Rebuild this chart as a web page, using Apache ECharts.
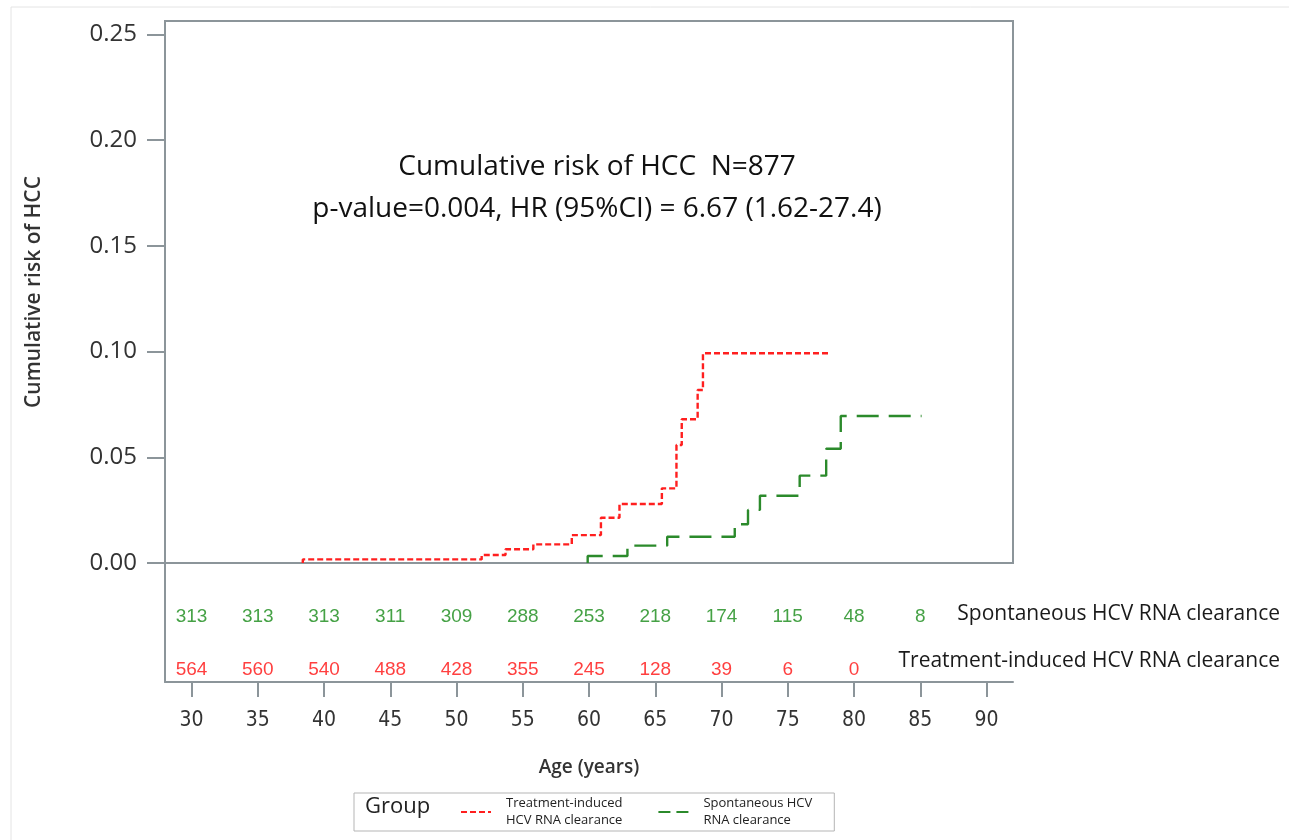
<!DOCTYPE html>
<html>
<head>
<meta charset="utf-8">
<script src="https://cdn.jsdelivr.net/npm/echarts@6/dist/echarts.min.js"></script>
<style>
  html, body { margin: 0; padding: 0; background: #fff; }
  #chart { width: 1289px; height: 840px; }
</style>
</head>
<body>
<div id="chart"></div>
<script>
// step curves: [age, cumulative risk]
const treatCurve = [
  [38.4, 0], [38.4, 0.0017], [51.9, 0.0038], [53.7, 0.0065], [55.8, 0.0088],
  [58.7, 0.0132], [60.9, 0.0214], [62.3, 0.0279], [65.5, 0.0353], [66.6, 0.0558],
  [67.0, 0.068], [68.2, 0.0818], [68.6, 0.0992], [78.1, 0.0992]
]
const spontCurve = [
  [59.9, 0], [59.9, 0.0033], [62.9, 0.0082], [65.9, 0.0124], [71.0, 0.0183],
  [72.0, 0.0251], [72.9, 0.0318], [75.9, 0.0413], [77.9, 0.054], [79.0, 0.0695],
  [85.1, 0.0695]
]

// numbers at risk
const spontAges = [30, 35, 40, 45, 50, 55, 60, 65, 70, 75, 80, 85]
const spontAtRisk = [313, 313, 313, 311, 309, 288, 253, 218, 174, 115, 48, 8]
const treatAges = [30, 35, 40, 45, 50, 55, 60, 65, 70, 75, 80]
const treatAtRisk = [564, 560, 540, 488, 428, 355, 245, 128, 39, 6, 0]

const xTicks = [30, 35, 40, 45, 50, 55, 60, 65, 70, 75, 80, 85, 90]
const yTicks = [0, 0.05, 0.1, 0.15, 0.2, 0.25]

const treatName = 'Treatment-induced HCV RNA clearance'
const spontName = 'Spontaneous HCV RNA clearance'
const legendLabels = {
  [treatName]: 'Treatment-induced\nHCV RNA clearance',
  [spontName]: 'Spontaneous HCV\nRNA clearance',
}

const RED = '#ff1f1f'
const GREEN = '#2b8a2b'
const AXIS = '#8c959a'
const SANS = "'Open Sans', 'Noto Sans', sans-serif"
const NARROW = "'Liberation Sans Narrow', 'DejaVu Sans Condensed', 'Liberation Sans', sans-serif"

// row positions inside the at-risk table (value axis 0..1)
const ROW = {
  spont: { num: 0.55, name: 0.575 },
  treat: { num: 0.10, name: 0.175 },
}

const chart = echarts.init(document.getElementById('chart'))

const riskSeries = (ages, counts, rowY, color) => ({
  type: 'scatter',
  xAxisIndex: 1,
  yAxisIndex: 1,
  symbolSize: 1,
  silent: true,
  itemStyle: { color: 'transparent' },
  label: {
    show: true,
    position: 'inside',
    formatter: (p) => String(p.value[2]),
    color: color,
    fontSize: 19,
    fontFamily: "'Liberation Sans', sans-serif",
  },
  data: ages.map((a, i) => [a, rowY, counts[i]]),
})

const option = {
  animation: false,
  backgroundColor: '#fff',
  title: {
    text: 'Cumulative risk of HCC  N=877\np-value=0.004, HR (95%CI) = 6.67 (1.62-27.4)',
    left: 592,
    top: 141,
    textAlign: 'center',
    textStyle: {
      fontFamily: SANS,
      fontSize: 28,
      fontWeight: 'normal',
      color: '#111',
      lineHeight: 42,
    },
  },
  graphic: [
    {
      type: 'rect',
      shape: { x: 11, y: 7, width: 1290, height: 845 },
      style: { fill: 'none', stroke: '#e4e4e4', lineWidth: 1 },
      silent: true,
    },
    {
      type: 'text',
      left: 365,
      top: 796,
      style: { text: 'Group', fontFamily: SANS, fontSize: 22, fill: '#222' },
      z: 10,
    },
  ],
  legend: {
    data: [
      { name: treatName },
      { name: spontName, lineStyle: { type: [12, 6] } },
    ],
    left: 354,
    top: 793,
    orient: 'horizontal',
    padding: [2, 22, 2, 106],
    itemWidth: 30,
    itemHeight: 14,
    itemGap: 35,
    borderColor: '#b5b5b5',
    borderWidth: 1,
    itemStyle: { opacity: 0 },
    formatter: (name) => legendLabels[name],
    textStyle: {
      fontFamily: SANS,
      fontSize: 13,
      lineHeight: 17,
      color: '#222',
      padding: [0, 0, 0, 10],
    },
  },
  grid: [
    {
      left: 165, right: 276, top: 21, bottom: 277,
      show: true, borderColor: AXIS, borderWidth: 2,
    },
    {
      left: 165, right: 276, top: 563, bottom: 158,
      show: false,
    },
  ],
  xAxis: [
    {
      gridIndex: 0,
      type: 'value',
      min: 28,
      max: 92,
      show: false,
    },
    {
      gridIndex: 1,
      type: 'value',
      min: 28,
      max: 92,
      name: 'Age (years)',
      nameLocation: 'middle',
      nameGap: 76,
      nameTextStyle: {
        fontFamily: SANS,
        fontSize: 19,
        fontWeight: 600,
        color: '#333',
      },
      axisLine: { show: true, lineStyle: { color: AXIS, width: 2 } },
      axisTick: {
        show: true,
        length: 15,
        customValues: xTicks,
        lineStyle: { color: AXIS, width: 2 },
      },
      axisLabel: {
        customValues: xTicks,
        margin: 28,
        fontFamily: NARROW,
        fontSize: 21,
        color: '#333',
      },
      splitLine: { show: false },
    },
  ],
  yAxis: [
    {
      gridIndex: 0,
      type: 'value',
      min: 0,
      max: 0.2563,
      name: 'Cumulative risk of HCC',
      nameLocation: 'middle',
      nameGap: 120,
      nameTextStyle: {
        fontFamily: SANS,
        fontSize: 21,
        fontWeight: 600,
        color: '#333',
      },
      axisLine: { show: true, lineStyle: { color: AXIS, width: 2 } },
      axisTick: {
        show: true,
        length: 18,
        customValues: yTicks,
        lineStyle: { color: AXIS, width: 2 },
      },
      axisLabel: {
        customValues: yTicks,
        margin: 28,
        formatter: (v) => v.toFixed(2),
        fontFamily: SANS,
        fontSize: 24,
        color: '#333',
      },
      splitLine: { show: false },
    },
    {
      // row names of the at-risk table, on the right
      gridIndex: 1,
      type: 'value',
      min: 0,
      max: 1,
      position: 'right',
      axisLine: { show: false },
      axisTick: { show: false },
      splitLine: { show: false },
      axisLabel: {
        customValues: [ROW.spont.name, ROW.treat.name],
        formatter: (v) => (v > 0.4 ? spontName : treatName),
        align: 'right',
        margin: 267,
        hideOverlap: false,
        fontFamily: SANS,
        fontSize: 21,
        color: '#1a1a1a',
      },
    },
    {
      // left edge of the at-risk table
      gridIndex: 1,
      type: 'value',
      min: 0,
      max: 1,
      position: 'left',
      axisLine: { show: true, onZero: false, lineStyle: { color: AXIS, width: 2 } },
      axisTick: { show: false },
      axisLabel: { show: false },
      splitLine: { show: false },
    },
  ],
  series: [
    {
      name: treatName,
      type: 'line',
      step: 'end',
      symbol: 'none',
      xAxisIndex: 0,
      yAxisIndex: 0,
      color: RED,
      lineStyle: { color: RED, width: 2.4, type: [6, 3] },
      data: treatCurve,
      z: 3,
    },
    {
      name: spontName,
      type: 'line',
      step: 'end',
      symbol: 'none',
      xAxisIndex: 0,
      yAxisIndex: 0,
      color: GREEN,
      lineStyle: { color: GREEN, width: 2.4, type: [22, 10] },
      data: spontCurve,
      z: 3,
    },
    riskSeries(spontAges, spontAtRisk, ROW.spont.num, '#178a17'),
    riskSeries(treatAges, treatAtRisk, ROW.treat.num, '#ff0f0f'),
  ],
}

chart.setOption(option)
</script>
</body>
</html>
